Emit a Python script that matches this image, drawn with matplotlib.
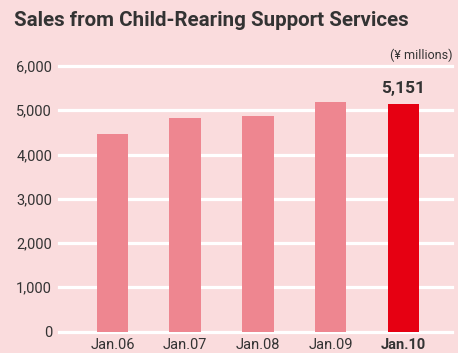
import matplotlib
matplotlib.use("Agg")
import matplotlib.pyplot as plt

categories = ["Jan.06", "Jan.07", "Jan.08", "Jan.09", "Jan.10"]
values = [4460, 4820, 4880, 5180, 5151]
yticks = [0, 1000, 2000, 3000, 4000, 5000, 6000]
ytick_labels = ["0", "1,000", "2,000", "3,000", "4,000", "5,000", "6,000"]
title = "Sales from Child-Rearing Support Services"
unit = "(¥ millions)"
highlight_label = "5,151"

plt.rcParams['font.family'] = ['Roboto', 'DejaVu Sans']

bg = "#FADCDD"
bar_c = "#EE8690"
hi_c = "#E60012"
txt = "#333333"

fig = plt.figure(figsize=(4.58, 3.53), dpi=100, facecolor=bg)
ax = fig.add_axes([59/458, 1-331.5/353, 393/458, 265.5/353])
ax.set_facecolor(bg)
for s in ax.spines.values():
    s.set_visible(False)

x = list(range(len(categories)))
colors = [bar_c] * (len(categories) - 1) + [hi_c]
for yv in yticks:
    ax.axhline(yv, color="white", lw=2.3, zorder=1, clip_on=False)
ax.bar(x, values, width=0.433, color=colors, zorder=2)

ax.set_xlim(-0.735, 4.667)
ax.set_ylim(0, 6000)
ax.set_yticks(yticks)
ax.set_yticklabels(ytick_labels, fontsize=10.5, color=txt)
ax.set_xticks(x)
ax.set_xticklabels(categories, fontsize=10.5, color=txt)
ax.get_xticklabels()[-1].set_fontweight("bold")
ax.tick_params(axis="both", length=0)
ax.tick_params(axis="y", pad=5)
ax.tick_params(axis="x", pad=5)

ax.text(x[-1], values[-1] + 170, highlight_label, ha="center", va="bottom",
        fontsize=12.5, fontweight="bold", color=txt)
fig.text(14/458, 1-20/353, title, ha="left", va="center", fontsize=14.8,
         fontweight="bold", color=txt)
fig.text(453/458, 1-55/353, unit, ha="right", va="center", fontsize=9, color=txt)

fig.savefig("out.png", dpi=100, facecolor=bg)
